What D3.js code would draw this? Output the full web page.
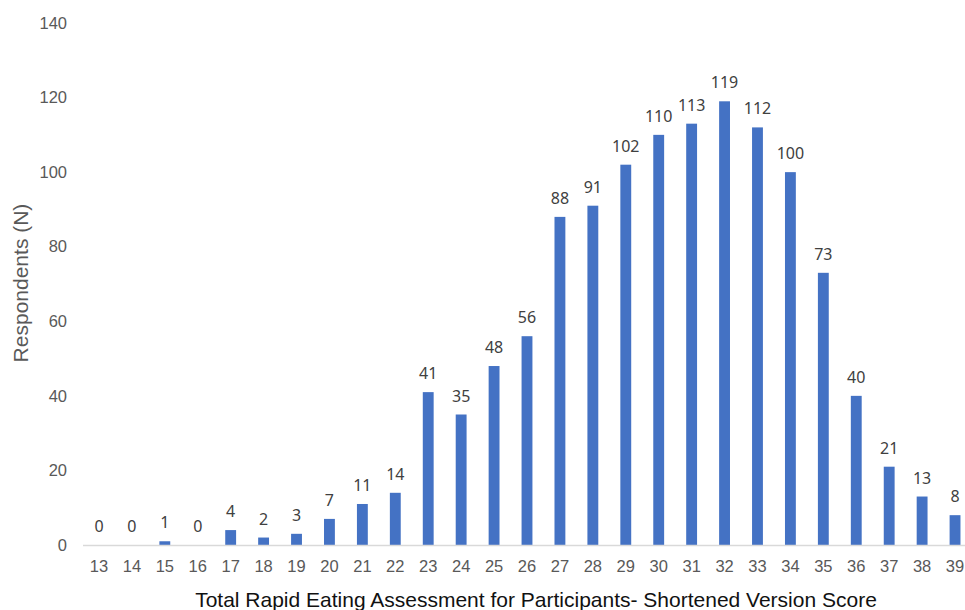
<!DOCTYPE html>
<html>
<head>
<meta charset="utf-8">
<script src="https://cdn.jsdelivr.net/npm/d3@7"></script>
<style>
  body { margin: 0; background: #fff; }
  svg { display: block; }
</style>
</head>
<body>
<svg></svg>
<script>
// scores on the x axis
let scores = ["13","14","15","16","17","18","19","20","21","22","23","24","25","26","27","28","29","30","31","32","33","34","35","36","37","38","39"]
// respondents per score
let respondents = [0,0,1,0,4,2,3,7,11,14,41,35,48,56,88,91,102,110,113,119,112,100,73,40,21,13,8]
let yTicks = [0,20,40,60,80,100,120,140]

let width = 965
let height = 610

let svg = d3.select('svg').attr('width', width).attr('height', height)

// x band covers 13..39, the last half band runs past the right edge like the original
let xScale = d3.scaleBand()
  .domain(scores)
  .range([82.5, 971.5])
  .paddingInner(0.67)
  .paddingOuter(0.335)

let yScale = d3.scaleLinear()
  .domain([0, 140])
  .range([545, 23])

// y tick labels (no gridlines)
let yAxis = d3.axisLeft(yScale).tickValues(yTicks).tickSize(0).tickPadding(0)
let gy = svg.append('g')
  .attr('transform', 'translate(67,0)')
  .call(yAxis)
gy.select('.domain').remove()
gy.selectAll('text')
  .attr('font-family', 'Liberation Sans, Arial, sans-serif')
  .attr('font-size', 16.5)
  .attr('fill', '#595959')

// bars
svg.selectAll('rect.bar')
  .data(respondents)
  .enter()
  .append('rect')
  .attr('class', 'bar')
  .attr('x', (d, i) => xScale(scores[i]))
  .attr('width', xScale.bandwidth())
  .attr('y', d => yScale(d))
  .attr('height', d => yScale(0) - yScale(d))
  .attr('fill', '#4472C4')

// x axis
let xAxis = d3.axisBottom(xScale).tickSize(0).tickPadding(0)
let gx = svg.append('g')
  .attr('transform', 'translate(0,' + yScale(0) + ')')
  .call(xAxis)
gx.select('.domain').attr('stroke', '#d9d9d9').attr('stroke-width', 1.5)
gx.selectAll('text')
  .attr('y', 27)
  .attr('dy', null)
  .attr('font-family', 'Liberation Sans, Arial, sans-serif')
  .attr('font-size', 16.5)
  .attr('fill', '#595959')

// data labels
svg.selectAll('text.lbl')
  .data(respondents)
  .enter()
  .append('text')
  .attr('class', 'lbl')
  .attr('x', (d, i) => xScale(scores[i]) + xScale.bandwidth() / 2)
  .attr('y', d => yScale(d) - 13)
  .attr('text-anchor', 'middle')
  .attr('font-family', 'Noto Sans, sans-serif')
  .attr('font-size', 16)
  .attr('fill', '#404040')
  .text(d => d)

// axis titles
svg.append('text')
  .attr('transform', 'translate(28,283) rotate(-90)')
  .attr('text-anchor', 'middle')
  .attr('font-family', 'Liberation Sans, Arial, sans-serif')
  .attr('font-size', 21)
  .attr('fill', '#595959')
  .text('Respondents (N)')

svg.append('text')
  .attr('x', 536)
  .attr('y', 607)
  .attr('text-anchor', 'middle')
  .attr('font-family', 'Liberation Sans, Arial, sans-serif')
  .attr('font-size', 21)
  .attr('fill', '#111')
  .text('Total Rapid Eating Assessment for Participants- Shortened Version Score')
</script>
</body>
</html>
